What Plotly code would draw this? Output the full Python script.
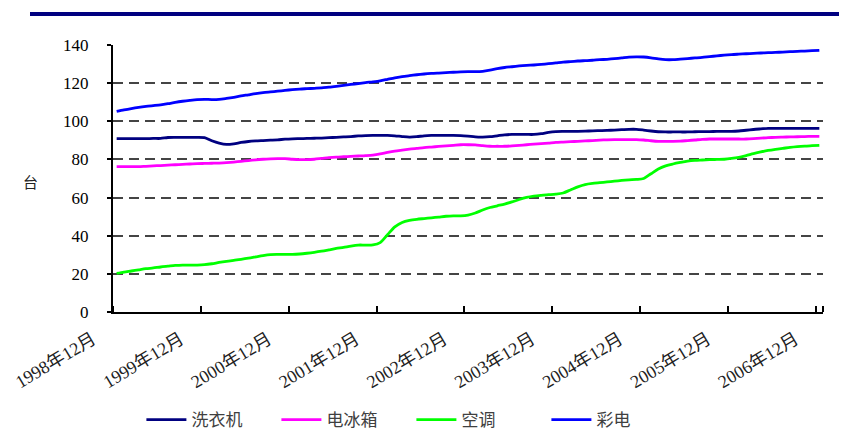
import plotly.graph_objects as go

# ---- data -------------------------------------------------------------
tick_labels = ["1998年12月", "1999年12月", "2000年12月", "2001年12月", "2002年12月",
               "2003年12月", "2004年12月", "2005年12月", "2006年12月"]
n_months = 97  # Dec 1998 .. Dec 2006, monthly
months = list(range(n_months))

washer = [90.9, 90.9, 90.9, 90.9, 90.9, 91.0, 91.0, 91.5, 91.6, 91.6, 91.6, 91.6, 91.4, 89.8, 88.6, 87.9,
          88.2, 88.9, 89.4, 89.7, 89.9, 90.1, 90.3, 90.6, 90.8, 90.9, 91.0, 91.1, 91.2, 91.4, 91.6, 91.8,
          92.0, 92.3, 92.5, 92.6, 92.6, 92.6, 92.4, 92.0, 91.7, 91.9, 92.4, 92.6, 92.6, 92.6, 92.6, 92.5,
          92.2, 91.8, 91.7, 91.9, 92.4, 92.9, 93.1, 93.1, 93.1, 93.1, 93.5, 94.2, 94.6, 94.7, 94.7, 94.7,
          94.8, 95.0, 95.1, 95.2, 95.4, 95.6, 95.8, 95.8, 95.4, 94.9, 94.5, 94.4, 94.4, 94.4, 94.4, 94.5,
          94.6, 94.6, 94.7, 94.7, 94.7, 94.9, 95.3, 95.7, 96.0, 96.3, 96.3, 96.3, 96.3, 96.3, 96.3, 96.3,
          96.3]

fridge = [76.2, 76.2, 76.2, 76.2, 76.4, 76.6, 76.8, 77.0, 77.2, 77.4, 77.6, 77.8, 77.9, 78.0, 78.1, 78.3,
          78.6, 79.0, 79.4, 79.8, 80.1, 80.3, 80.4, 80.4, 80.1, 79.9, 79.9, 80.1, 80.5, 80.9, 81.2, 81.4,
          81.6, 81.8, 82.0, 82.3, 82.9, 83.7, 84.4, 84.9, 85.4, 85.8, 86.2, 86.5, 86.8, 87.1, 87.4, 87.7,
          87.7, 87.6, 87.2, 86.9, 86.9, 86.9, 87.1, 87.4, 87.7, 88.0, 88.3, 88.6, 88.9, 89.1, 89.3, 89.5,
          89.7, 89.9, 90.1, 90.3, 90.4, 90.4, 90.4, 90.4, 90.2, 89.8, 89.5, 89.5, 89.5, 89.6, 89.9, 90.2,
          90.5, 90.7, 90.7, 90.7, 90.7, 90.7, 90.7, 90.9, 91.2, 91.4, 91.6, 91.7, 91.8, 91.9, 92.0, 92.1,
          92.1]

aircon = [20.2, 20.9, 21.5, 22.1, 22.7, 23.1, 23.6, 24.0, 24.4, 24.6, 24.6, 24.6, 24.8, 25.3, 26.0, 26.6,
          27.1, 27.6, 28.2, 28.9, 29.6, 30.1, 30.2, 30.2, 30.2, 30.4, 30.8, 31.3, 31.9, 32.6, 33.3, 33.9,
          34.6, 35.1, 35.1, 35.2, 36.4, 40.5, 44.6, 46.9, 48.0, 48.6, 49.0, 49.4, 49.8, 50.2, 50.4, 50.4,
          50.8, 51.9, 53.5, 54.8, 55.7, 56.6, 57.7, 59.0, 60.1, 60.8, 61.2, 61.5, 61.8, 62.4, 64.0, 65.6,
          66.8, 67.4, 67.8, 68.2, 68.6, 69.0, 69.3, 69.5, 70.0, 72.5, 75.0, 76.6, 77.6, 78.4, 79.1, 79.5,
          79.7, 79.9, 80.0, 80.1, 80.5, 81.1, 82.0, 83.0, 83.9, 84.7, 85.3, 85.8, 86.3, 86.7, 87.0, 87.2,
          87.4]

tv = [105.2, 106.0, 106.7, 107.3, 107.8, 108.2, 108.6, 109.2, 109.9, 110.5, 111.0, 111.4, 111.5, 111.4,
      111.5, 112.0, 112.6, 113.3, 113.9, 114.5, 115.0, 115.4, 115.8, 116.2, 116.6, 116.9, 117.1, 117.3,
      117.5, 117.9, 118.3, 118.8, 119.3, 119.8, 120.3, 120.7, 121.2, 122.0, 122.8, 123.4, 123.9, 124.4,
      124.8, 125.1, 125.3, 125.5, 125.7, 125.9, 126.0, 126.0, 126.2, 126.8, 127.6, 128.2, 128.6, 129.0,
      129.3, 129.5, 129.8, 130.2, 130.6, 131.0, 131.3, 131.6, 131.8, 132.0, 132.3, 132.5, 132.8, 133.2,
      133.6, 133.8, 133.7, 133.3, 132.7, 132.3, 132.3, 132.6, 132.9, 133.2, 133.5, 133.9, 134.3, 134.7,
      135.0, 135.2, 135.4, 135.6, 135.8, 136.0, 136.1, 136.3, 136.5, 136.7, 136.8, 137.0, 137.2]

series_names = ["洗衣机", "电冰箱", "空调", "彩电"]
series_values = [washer, fridge, aircon, tv]
series_colors = ["#000080", "#FF00FF", "#00FF00", "#0000FF"]

y_ticks = [0, 20, 40, 60, 80, 100, 120, 140]

# ---- figure -----------------------------------------------------------
fig = go.Figure()
for name, vals, col in zip(series_names, series_values, series_colors):
    fig.add_trace(go.Scatter(
        x=months, y=vals, name=name, mode="lines",
        line=dict(color=col, width=2.8, shape="spline", smoothing=0.8),
    ))

label_pos = [i * 12 for i in range(len(tick_labels))]
boundary_pos = [i * 12 - 0.5 for i in range(len(tick_labels))]

serif = "Liberation Serif, Noto Sans CJK SC, serif"

# the page body adds an 8px offset, so margins are reduced accordingly
fig.update_layout(
    width=847, height=446,
    margin=dict(l=105, r=32, t=37, b=142, autoexpand=False),
    paper_bgcolor="white", plot_bgcolor="white",
    font=dict(family=serif, size=15, color="black"),
    showlegend=True,
    legend=dict(orientation="h", x=0.04, y=-0.405, xanchor="left", yanchor="middle",
                font=dict(family="Noto Sans CJK SC, sans-serif", size=17, color="#404040"),
                itemwidth=40, entrywidth=80, tracegroupgap=0, bgcolor="rgba(0,0,0,0)"),
    xaxis=dict(
        range=[-0.5, n_months - 0.5], automargin=False,
        tickmode="array", tickvals=label_pos, ticktext=tick_labels,
        tickangle=-31, ticks="", showgrid=False, zeroline=False,
        showline=True, linecolor="black", linewidth=2,
        ticklabelshift=-24, ticklabelstandoff=8, ticklabeloverflow="allow",
        tickfont=dict(family=serif, size=18, color="#222"),
        minor=dict(tickmode="array", tickvals=boundary_pos + [n_months - 0.5], ticks="inside",
                   ticklen=6, tickwidth=2, tickcolor="black", showgrid=False),
    ),
    yaxis=dict(
        range=[0, 140], tickmode="array", tickvals=y_ticks, automargin=False,
        showgrid=True, gridcolor="#444444", gridwidth=1.5, griddash="10px,6px",
        showline=True, linecolor="black", linewidth=2, zeroline=False,
        ticks="outside", ticklen=4, tickwidth=1.5, tickcolor="black", ticklabelstandoff=15,
        tickfont=dict(family=serif, size=17, color="black"),
    ),
)

# top decorative rule
fig.add_shape(type="line", xref="paper", yref="paper",
              x0=(30 - 113) / 710, x1=(860 - 113) / 710,
              y0=(312 - 14) / 267, y1=(312 - 14) / 267,
              line=dict(color="#000080", width=4))

# y axis unit label
fig.add_annotation(text="台", xref="paper", yref="paper",
                   x=(21 - 113) / 710, y=(312 - 181) / 267,
                   showarrow=False, font=dict(family="Noto Sans CJK SC", size=15, color="#222"))

fig.write_html("out.html")
